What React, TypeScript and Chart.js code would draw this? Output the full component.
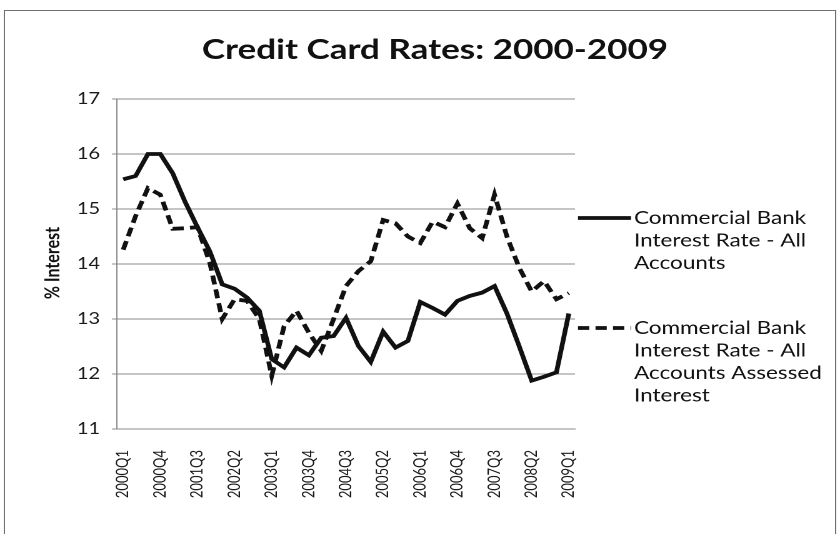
import { useEffect, useRef } from 'react';
import { Chart, registerables } from 'chart.js';

Chart.register(...registerables);

const chartTitle = 'Credit Card Rates: 2000-2009';
const yAxisTitle = '% Interest';

const quarters = [
  '2000Q1', '2000Q2', '2000Q3', '2000Q4',
  '2001Q1', '2001Q2', '2001Q3', '2001Q4',
  '2002Q1', '2002Q2', '2002Q3', '2002Q4',
  '2003Q1', '2003Q2', '2003Q3', '2003Q4',
  '2004Q1', '2004Q2', '2004Q3', '2004Q4',
  '2005Q1', '2005Q2', '2005Q3', '2005Q4',
  '2006Q1', '2006Q2', '2006Q3', '2006Q4',
  '2007Q1', '2007Q2', '2007Q3', '2007Q4',
  '2008Q1', '2008Q2', '2008Q3', '2008Q4',
  '2009Q1',
];

const shownQuarterTicks = [
  '2000Q1', '2000Q4', '2001Q3', '2002Q2', '2003Q1', '2003Q4', '2004Q3',
  '2005Q2', '2006Q1', '2006Q4', '2007Q3', '2008Q2', '2009Q1',
];

const allAccounts = [
  15.54, 15.6, 16.0, 16.0, 15.65, 15.13, 14.67, 14.23, 13.63, 13.55,
  13.39, 13.15, 12.27, 12.12, 12.48, 12.34, 12.66, 12.69, 13.02, 12.51,
  12.22, 12.77, 12.48, 12.6, 13.31, 13.2, 13.08, 13.33, 13.42, 13.48,
  13.6, 13.1, 12.5, 11.88, 11.95, 12.03, 13.1,
];

const assessedInterest = [
  14.26, 14.87, 15.38, 15.26, 14.64, 14.65, 14.67, 14.02, 13.0, 13.36,
  13.33, 13.0, 11.97, 12.87, 13.15, 12.75, 12.42, 13.0, 13.6, 13.87,
  14.05, 14.8, 14.74, 14.5, 14.38, 14.77, 14.67, 15.1, 14.65, 14.47,
  15.26, 14.5, 13.93, 13.5, 13.69, 13.36, 13.47,
];

const seriesLegendLines = [
  ['Commercial Bank', 'Interest Rate - All', 'Accounts'],
  ['Commercial Bank', 'Interest Rate - All', 'Accounts Assessed', 'Interest'],
];

const yMin = 11;
const yMax = 17;
const yStep = 1;

// horizontal stretch of the reference picture
const SX = 1.25;
const CSS_W = 840;
const CSS_H = 534;
const LW = CSS_W / SX;

const GRID = '#8a8a8a';
const INK = '#111111';

export default function App() {
  const ref = useRef<HTMLCanvasElement | null>(null);

  useEffect(() => {
    const canvas = ref.current;
    if (!canvas) return;

    const overlay = {
      id: 'overlay',
      afterDraw(chart: any) {
        const ctx = chart.ctx as CanvasRenderingContext2D;
        ctx.save();
        // outer frame
        ctx.strokeStyle = '#707070';
        ctx.lineWidth = 1;
        ctx.strokeRect(3.5, 10.5, 665, 600);

        // title
        ctx.fillStyle = INK;
        ctx.font = 'bold 28px Lato';
        ctx.textAlign = 'center';
        ctx.textBaseline = 'middle';
        ctx.fillText(chartTitle, 435 / SX, 50);

        // y-axis title
        ctx.save();
        ctx.translate(53 / SX, 263);
        ctx.rotate(-Math.PI / 2);
        ctx.font = 'bold 16px Lato';
        ctx.fillText(yAxisTitle, 0, 0);
        ctx.restore();

        // legend
        const starts = [218, 328];
        const lh = 22.5;
        chart.data.datasets.forEach((ds: any, i: number) => {
          const y0 = starts[i];
          ctx.beginPath();
          ctx.strokeStyle = ds.borderColor;
          ctx.lineWidth = ds.borderWidth;
          ctx.setLineDash(ds.borderDash || []);
          ctx.moveTo(578 / SX, y0);
          ctx.lineTo(631 / SX, y0);
          ctx.stroke();
          ctx.setLineDash([]);
          ctx.fillStyle = INK;
          ctx.font = '18px Lato';
          ctx.textAlign = 'left';
          ctx.textBaseline = 'middle';
          seriesLegendLines[i].forEach((t, k) => {
            ctx.fillText(t, 634 / SX, y0 + k * lh);
          });
        });
        ctx.restore();
      },
    };

    const chart = new Chart(canvas, {
      type: 'line',
      data: {
        labels: quarters,
        datasets: [
          {
            label: seriesLegendLines[0].join(' '),
            data: allAccounts,
            borderColor: INK,
            borderWidth: 3.8,
            pointRadius: 0,
            tension: 0,
            fill: false,
          },
          {
            label: seriesLegendLines[1].join(' '),
            data: assessedInterest,
            borderColor: INK,
            borderWidth: 3.8,
            borderDash: [9, 5],
            pointRadius: 0,
            tension: 0,
            fill: false,
          },
        ],
      },
      options: {
        responsive: false,
        animation: false,
        devicePixelRatio: 2,
        layout: {
          padding: { left: 0, right: LW - 575 / SX, top: 99, bottom: CSS_H - 429 - 70 },
        },
        plugins: {
          legend: { display: false },
          title: { display: false },
          tooltip: { enabled: false },
        },
        scales: {
          x: {
            offset: true,
            grid: { display: false, drawTicks: false },
            border: { display: true, color: GRID, width: 1 },
            ticks: {
              autoSkip: false,
              maxRotation: 90,
              minRotation: 90,
              padding: 21,
              color: '#1a1a1a',
              font: { family: 'Lato', size: 13 },
              callback: (_v: any, i: number) =>
                shownQuarterTicks.includes(quarters[i]) ? quarters[i] : '',
            },
            afterFit: (s: any) => {
              s.height = 70;
            },
          },
          y: {
            min: yMin,
            max: yMax,
            grid: { color: GRID, lineWidth: 1, drawTicks: true, tickLength: 4 },
            border: { display: true, color: GRID, width: 1 },
            ticks: {
              stepSize: yStep,
              padding: 9.6,
              color: '#1a1a1a',
              font: { family: 'Lato', size: 16 },
            },
            afterFit: (s: any) => {
              s.width = 117 / SX;
            },
          },
        },
      },
      plugins: [overlay],
    });

    return () => chart.destroy();
  }, []);

  return (
    <div style={{ position: 'absolute', left: 0, top: 0, width: CSS_W, height: CSS_H, background: '#fff' }}>
      <canvas
        ref={ref}
        width={LW}
        height={CSS_H}
        style={{ width: `${CSS_W}px`, height: `${CSS_H}px`, display: 'block' }}
      />
    </div>
  );
}
